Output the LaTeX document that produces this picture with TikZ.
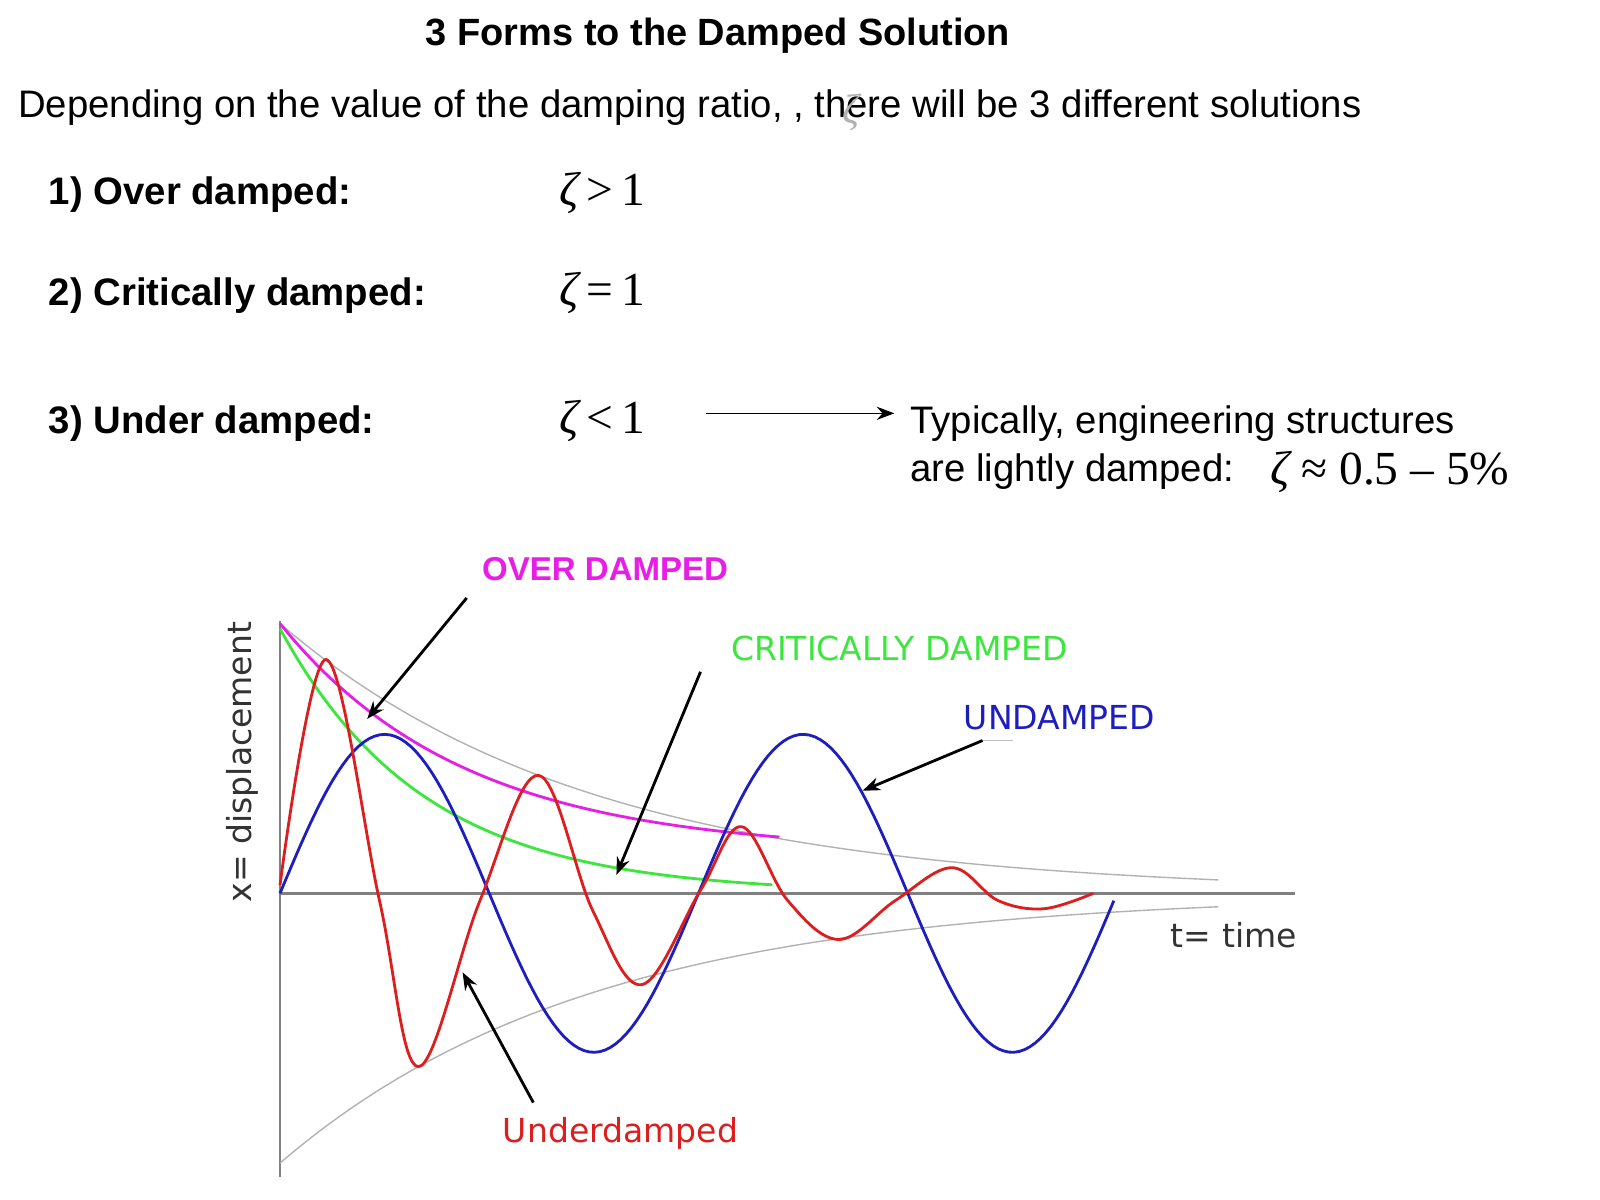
\documentclass[tikz,border=0pt]{standalone}
\usepackage{fontspec}
\setmainfont{Liberation Sans}
\newfontfamily\serifzeta{Liberation Serif}
\newfontfamily\plotfont{DejaVu Sans}
\usetikzlibrary{arrows.meta, positioning}
\definecolor{critgreen}{RGB}{60, 230, 60}
\definecolor{undblue}{RGB}{30, 30, 190}
\definecolor{redcurve}{RGB}{220, 30, 30}
\definecolor{overpink}{RGB}{230, 30, 230}
\tikzset{
  body/.style={anchor=west, inner sep=0pt, font=\fontsize{10.9}{12}\selectfont},
  item/.style={anchor=west, inner sep=0pt, font=\fontsize{10.9}{12}\selectfont\bfseries},
  cond/.style={anchor=west, inner sep=0pt, font=\fontsize{13.5}{15}\selectfont\serifzeta},
  lbl/.style={inner sep=0pt, font=\fontsize{9.4}{11}\selectfont\plotfont},
  pointer/.style={-{Stealth[length=5pt]}, thick}
}
\begin{document}
\begin{tikzpicture}[x=0.01026cm, y=-0.01026cm]
  \useasboundingbox (0,0) rectangle (1560,1170);
  % header text
  \node[item, anchor=center, font=\fontsize{10.8}{12}\selectfont\bfseries] (title) at (700,35) {3 Forms to the Damped Solution};
  \node[body] (intro) at (17,105) {Depending on the value of the damping ratio, , there will be 3 different solutions};
  \node[lbl, text=gray!60, font=\fontsize{12}{12}\selectfont\serifzeta\itshape] (zetafaint) at (830,110) {ζ};
  \node[item] (over) at (47,190) {1) Over damped:};
  \node[item] (crit) at (47,288) {2) Critically damped:};
  \node[item] (under) at (47,413) {3) Under damped:};
  \node[cond] (overc) at (545,188) {\itshape ζ\upshape\,>\,1};
  \node[cond] (critc) at (545,286) {\itshape ζ\upshape\,=\,1};
  \node[cond] (underc) at (545,410) {\itshape ζ\upshape\,<\,1};
  \coordinate (arrS) at (688,403);
  \coordinate (arrE) at (872,403);
  \node[body] (typ) at (887,413) {Typically, engineering structures};
  \node[body] (light) at (887,460) {are lightly damped:};
  \node[cond] (lightc) at (1238,460) {\itshape ζ\upshape\ ≈ 0.5 – 5\%};
  \draw[-{Stealth[length=5pt]}] (arrS) -- (arrE);
  % axes
  \draw[gray, thick] (273,605) -- (273,1148);
  \draw[gray, thick] (273,871) -- (1263,871);
  % envelope
  \draw[gray!60] plot[domain=273:1188, samples=80] (\x,{871-263*exp(-(\x-273)/305)});
  \draw[gray!60] plot[domain=273:1188, samples=80] (\x,{871+263*exp(-(\x-273)/305)});
  % curves
  \draw[overpink, thick] plot[domain=273:760, samples=80] (\x,{871-40-223*exp(-(\x-273)/180)});
  \draw[critgreen, thick] plot[domain=273:753, samples=80] (\x,{871-258*exp(-(\x-273)/140)});
  \draw[undblue, thick] plot[domain=273:1086, samples=160] (\x,{871-155*sin((\x-273)/408*360)});
  \draw[redcurve, thick] plot[smooth, tension=0.6] coordinates {(273,863) (318,643) (370,878) (408,1040) (468,878) (525,756) (578,888) (626,960) (683,868) (723,806) (768,878) (818,916) (873,878) (928,846) (973,878) (1018,886) (1066,871)};
  % labels
  \node[lbl, text=overpink, font=\fontsize{9.4}{11}\selectfont\bfseries] (overlbl) at (590,555) {OVER DAMPED};
  \node[lbl, text=critgreen] (critlbl) at (877,632) {CRITICALLY DAMPED};
  \node[lbl, text=undblue] (undlbl) at (1033,700) {UNDAMPED};
  \node[lbl, text=redcurve] (underlbl) at (605,1105) {Underdamped};
  \node[lbl, text=black!80] (tlbl) at (1203,912) {t= time};
  \node[lbl, text=black!80, rotate=90] (xlbl) at (236,743) {x= displacement};
  % pointers
  \coordinate (overtip) at (358,701);
  \coordinate (crittip) at (601,853);
  \coordinate (undtip) at (841,771);
  \coordinate (undertip) at (451,948);
  \draw[pointer] (455,583) -- (overtip);
  \draw[pointer] (683,655) -- (crittip);
  \draw[gray!50] (958,722) -- (988,722);
  \draw[pointer] (958,722) -- (undtip);
  \draw[pointer] (520,1075) -- (undertip);
\end{tikzpicture}
\end{document}
